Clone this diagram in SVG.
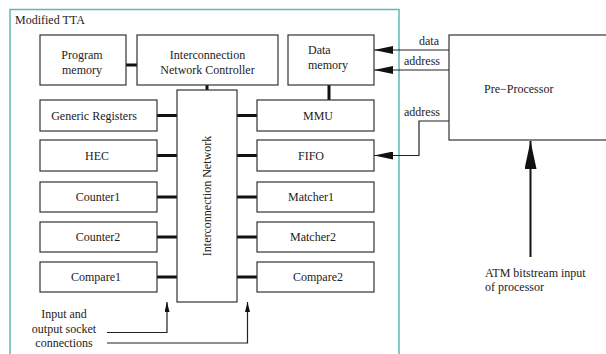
<svg xmlns="http://www.w3.org/2000/svg" width="606" height="354" viewBox="0 0 606 354">
  <style>
    text { font-family: "Liberation Serif", "Times New Roman", serif; font-size: 12px; fill: #222; }
    .box { fill: #fff; stroke: #333; stroke-width: 1.2; }
    .bus { stroke: #111; stroke-width: 3; fill: none; }
    .wire { stroke: #222; stroke-width: 1.2; fill: none; }
    .mid { text-anchor: middle; }
  </style>
  <defs>
    <marker id="ah" markerWidth="19" markerHeight="8" refX="19" refY="4" orient="auto" markerUnits="userSpaceOnUse">
      <path d="M0,0 L19,4 L0,8 Z" fill="#111"/>
    </marker>
    <marker id="ahSmall" markerWidth="10" markerHeight="5" refX="10" refY="2.5" orient="auto" markerUnits="userSpaceOnUse">
      <path d="M0,0 L10,2.5 L0,5 Z" fill="#111"/>
    </marker>
    <marker id="ahBig" markerWidth="28" markerHeight="12" refX="28" refY="6" orient="auto" markerUnits="userSpaceOnUse">
      <path d="M0,0 L28,6 L0,12 Z" fill="#111"/>
    </marker>
  </defs>

  <!-- Modified TTA boundary -->
  <g id="tta">
    <rect x="10" y="9.5" width="389" height="360" fill="none" stroke="#5fb8b8" stroke-width="1.5"/>
    <text x="15" y="24">Modified TTA</text>
  </g>

  <!-- connectors -->
  <g id="connectors">
    <line class="bus" x1="126" y1="65" x2="137" y2="65"/>
    <line class="bus" x1="207" y1="85" x2="207" y2="90"/>
    <line class="bus" x1="329" y1="85" x2="329" y2="100"/>
    <line class="bus" x1="157" y1="115.5" x2="177" y2="115.5"/>
    <line class="bus" x1="157" y1="155.5" x2="177" y2="155.5"/>
    <line class="bus" x1="157" y1="197" x2="177" y2="197"/>
    <line class="bus" x1="157" y1="237" x2="177" y2="237"/>
    <line class="bus" x1="157" y1="277" x2="177" y2="277"/>
    <line class="bus" x1="237" y1="115.5" x2="257" y2="115.5"/>
    <line class="bus" x1="237" y1="155.5" x2="257" y2="155.5"/>
    <line class="bus" x1="237" y1="197" x2="257" y2="197"/>
    <line class="bus" x1="237" y1="237" x2="257" y2="237"/>
    <line class="bus" x1="237" y1="277" x2="257" y2="277"/>
    <line class="wire" x1="449" y1="50" x2="374" y2="50" marker-end="url(#ah)"/>
    <line class="wire" x1="449" y1="70" x2="374" y2="70" marker-end="url(#ah)"/>
    <polyline class="wire" points="449,121 419,121 419,155.5 374,155.5" marker-end="url(#ah)"/>
    <line x1="530.5" y1="257" x2="530.5" y2="141" stroke="#111" stroke-width="2" marker-end="url(#ahBig)"/>
    <polyline class="wire" points="107,332.5 167,332.5 167,302" marker-end="url(#ahSmall)"/>
    <polyline class="wire" points="107,343 247.5,343 247.5,302" marker-end="url(#ahSmall)"/>
    <text x="419" y="45">data</text>
    <text x="404" y="65">address</text>
    <text x="404" y="116">address</text>
    <text class="mid" x="64" y="318">Input and</text>
    <text class="mid" x="64" y="333">output socket</text>
    <text class="mid" x="64" y="347">connections</text>
    <text x="485" y="277">ATM bitstream input</text>
    <text x="485" y="291">of processor</text>
  </g>

  <g id="program-memory">
    <rect class="box" x="40" y="35" width="86" height="50"/>
    <text class="mid" x="82" y="59">Program</text>
    <text class="mid" x="82" y="74">memory</text>
  </g>
  <g id="network-controller">
    <rect class="box" x="137" y="35" width="141" height="50"/>
    <text class="mid" x="207.5" y="59">Interconnection</text>
    <text class="mid" x="207.5" y="74">Network Controller</text>
  </g>
  <g id="data-memory">
    <rect class="box" x="288" y="35" width="86" height="50"/>
    <text x="308" y="54">Data</text>
    <text x="308" y="69">memory</text>
  </g>
  <g id="interconnection-network">
    <rect class="box" x="177" y="90" width="60" height="212"/>
    <text class="mid" transform="translate(211,196) rotate(-90)">Interconnection Network</text>
  </g>

  <g id="generic-registers">
    <rect class="box" x="40" y="100" width="117" height="31"/>
    <text class="mid" x="94" y="120">Generic Registers</text>
  </g>
  <g id="hec">
    <rect class="box" x="40" y="140" width="117" height="31"/>
    <text class="mid" x="97" y="160">HEC</text>
  </g>
  <g id="counter1">
    <rect class="box" x="40" y="182" width="117" height="30"/>
    <text class="mid" x="98" y="201">Counter1</text>
  </g>
  <g id="counter2">
    <rect class="box" x="40" y="222" width="117" height="30"/>
    <text class="mid" x="98" y="241">Counter2</text>
  </g>
  <g id="compare1">
    <rect class="box" x="40" y="262" width="117" height="30"/>
    <text class="mid" x="96" y="281">Compare1</text>
  </g>

  <g id="mmu">
    <rect class="box" x="257" y="100" width="117" height="31"/>
    <text class="mid" x="318" y="120">MMU</text>
  </g>
  <g id="fifo">
    <rect class="box" x="257" y="140" width="117" height="31"/>
    <text class="mid" x="311" y="160">FIFO</text>
  </g>
  <g id="matcher1">
    <rect class="box" x="257" y="182" width="117" height="30"/>
    <text class="mid" x="311" y="201">Matcher1</text>
  </g>
  <g id="matcher2">
    <rect class="box" x="257" y="222" width="117" height="30"/>
    <text class="mid" x="313" y="241">Matcher2</text>
  </g>
  <g id="compare2">
    <rect class="box" x="257" y="262" width="117" height="30"/>
    <text class="mid" x="318" y="281">Compare2</text>
  </g>

  <g id="pre-processor">
    <rect class="box" x="449" y="35" width="170" height="105"/>
    <text x="484" y="93">Pre−Processor</text>
  </g>
</svg>
